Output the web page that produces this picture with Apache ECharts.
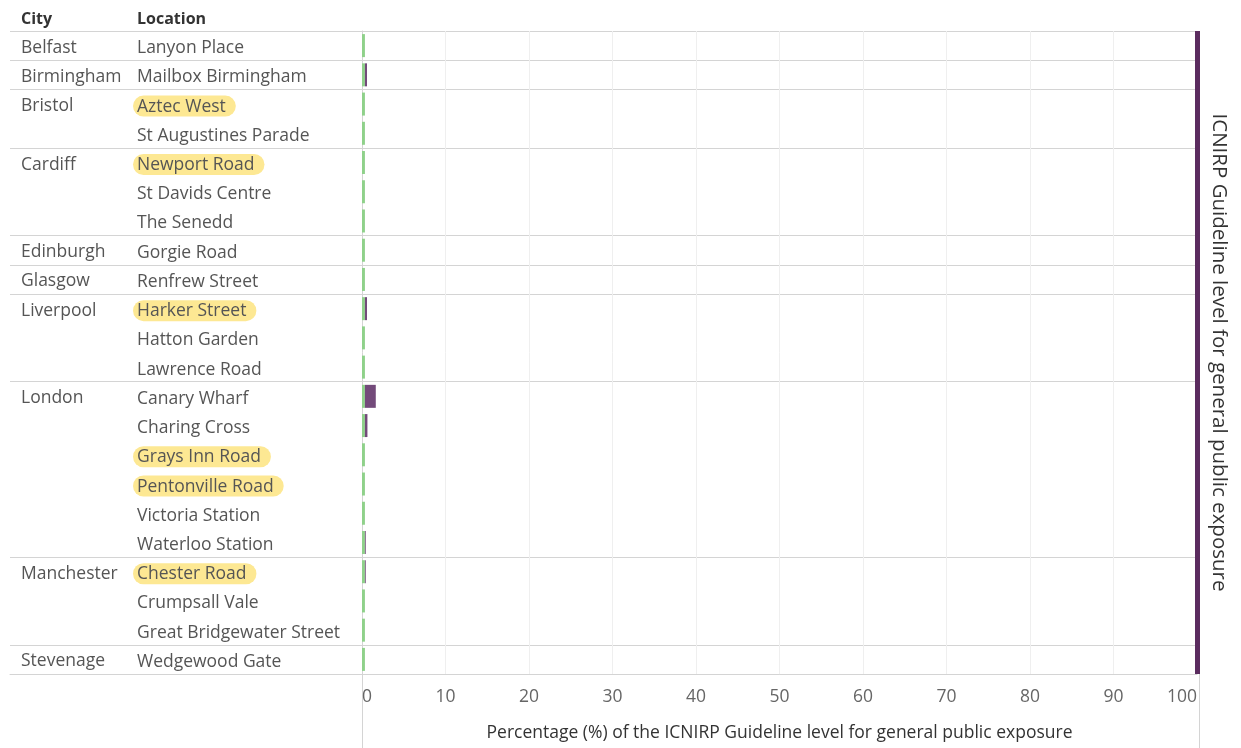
<!DOCTYPE html>
<html>
<head>
<meta charset="utf-8">
<script src="https://cdn.jsdelivr.net/npm/echarts@6/dist/echarts.min.js"></script>
<style>html,body{margin:0;padding:0;background:#fff;}#c{width:1241px;height:748px;}</style>
</head>
<body>
<div id="c"></div>
<script>
const cities = ['Belfast','Birmingham','Bristol','Bristol','Cardiff','Cardiff','Cardiff','Edinburgh','Glasgow','Liverpool','Liverpool','Liverpool','London','London','London','London','London','London','Manchester','Manchester','Manchester','Stevenage'];
const locations = ['Lanyon Place','Mailbox Birmingham','Aztec West','St Augustines Parade','Newport Road','St Davids Centre','The Senedd','Gorgie Road','Renfrew Street','Harker Street','Hatton Garden','Lawrence Road','Canary Wharf','Charing Cross','Grays Inn Road','Pentonville Road','Victoria Station','Waterloo Station','Chester Road','Crumpsall Vale','Great Bridgewater Street','Wedgewood Gate'];
const highlighted = ['Aztec West','Newport Road','Harker Street','Grays Inn Road','Pentonville Road','Chester Road'];
const minValues = [0.35,0.35,0.35,0.35,0.35,0.35,0.35,0.35,0.35,0.35,0.35,0.35,0.35,0.35,0.35,0.35,0.35,0.35,0.35,0.35,0.35,0.35];
const extraValues = [0,0.25,0,0,0,0,0,0,0,0.25,0,0,1.3,0.3,0,0,0,0.1,0.1,0,0,0];
const guideline = 100;
const xTicks = {min:0, max:100, interval:10};
const xTitle = 'Percentage (%) of the ICNIRP Guideline level for general public exposure';
const refTitle = 'ICNIRP Guideline level for general public exposure';
</script>
<script>
const FONT = 'Open Sans';
const TXT = '#555';
const FS = 17.5;
const groupStart = (i) => i === 0 || cities[i] !== cities[i-1];
const chart = echarts.init(document.getElementById('c'));
chart.setOption({
  animation:false,
  textStyle:{fontFamily:FONT},
  title:[
    {text:'City', left:21, top:11, padding:0, textStyle:{fontFamily:FONT, fontSize:16, fontWeight:'bold', color:'#333'}},
    {text:'Location', left:137, top:11, padding:0, textStyle:{fontFamily:FONT, fontSize:16, fontWeight:'bold', color:'#333'}}
  ],
  grid:[
    {left:362, right:44, top:31, bottom:74},
    {left:10, width:352, top:31, bottom:74}
  ],
  xAxis:[
    {gridIndex:0, type:'value', min:xTicks.min, max:xTicks.max, interval:xTicks.interval,
     axisLine:{show:true, lineStyle:{color:'#d4d4d4'}}, axisTick:{show:false},
     axisLabel:{color:'#666', fontSize:FS, fontFamily:FONT, margin:14, alignMinLabel:'left', alignMaxLabel:'right'},
     splitLine:{show:true, lineStyle:{color:'#efefef'}},
     name:xTitle, nameLocation:'middle', nameGap:50,
     nameTextStyle:{color:'#333', fontSize:FS, fontFamily:FONT}},
    {gridIndex:1, type:'value', min:0, max:1, show:true,
     axisLine:{show:true, lineStyle:{color:'#d4d4d4'}}, axisTick:{show:false}, axisLabel:{show:false}, splitLine:{show:false}}
  ],
  yAxis:[
    {gridIndex:0, type:'category', data:locations, inverse:true,
     axisLine:{show:true, lineStyle:{color:'#d4d4d4'}}, axisTick:{show:false},
     axisLabel:{interval:0, align:'left', margin:229, fontSize:FS, fontFamily:FONT, color:TXT, padding:[4,0,0,0],
       formatter:(v)=> highlighted.includes(v) ? '{h|'+v+'}' : '{n|'+v+'}',
       rich:{
         h:{backgroundColor:'#fde893', borderRadius:12, padding:[2,10,1,4], fontSize:FS, fontFamily:FONT, color:TXT},
         n:{padding:[2,10,1,4], fontSize:FS, fontFamily:FONT, color:TXT}
       }},
     splitLine:{show:true, interval:(i)=>groupStart(i), lineStyle:{color:'#d4d4d4'}}},
    {gridIndex:1, type:'category', data:locations, inverse:true,
     axisLine:{show:false}, axisTick:{show:false},
     axisLabel:{interval:0, align:'left', margin:-11, fontSize:FS, fontFamily:FONT, color:TXT,
       formatter:(v, i)=> groupStart(i) ? '{c|'+cities[i]+'}' : '',
       rich:{c:{padding:[4,0,0,0], fontSize:FS, fontFamily:FONT, color:TXT}}},
     splitLine:{show:true, interval:(i)=>groupStart(i), lineStyle:{color:'#d4d4d4'}}},
    {gridIndex:0, type:'category', data:locations, inverse:true, position:'right',
     axisLine:{show:false}, axisTick:{show:false}, axisLabel:{show:false}, splitLine:{show:false},
     name:refTitle, nameLocation:'middle', nameRotate:-90, nameGap:11,
     nameTextStyle:{color:'#333', fontSize:20.5, fontFamily:FONT}}
  ],
  series:[
    {type:'bar', xAxisIndex:0, yAxisIndex:0, stack:'a', data:minValues, barWidth:23,
     itemStyle:{color:'#8fd18a'},
     markLine:{silent:true, symbol:'none', label:{show:false},
       lineStyle:{color:'#5b2c5f', width:5, type:'solid'},
       data:[{xAxis:guideline}]}},
    {type:'bar', xAxisIndex:0, yAxisIndex:0, stack:'a', data:extraValues, barWidth:23,
     itemStyle:{color:'#734a7a'}}
  ],
  graphic:[
    {type:'line', shape:{x1:362.5, y1:674, x2:362.5, y2:748}, style:{stroke:'#d4d4d4', lineWidth:1}},
    {type:'line', shape:{x1:1199.5, y1:31, x2:1199.5, y2:748}, style:{stroke:'#d4d4d4', lineWidth:1}}
  ]
});
</script>
</body>
</html>
